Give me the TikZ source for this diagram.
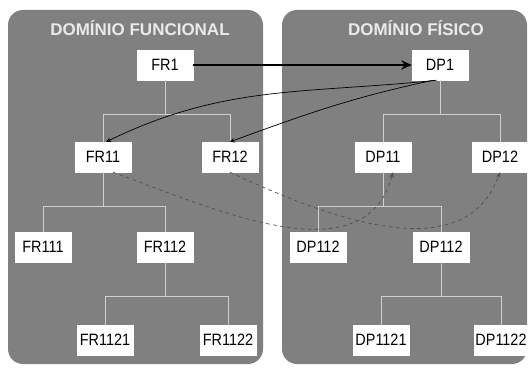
\documentclass[tikz,border=0pt]{standalone}
\usepackage{fontspec}
\setmainfont{Liberation Sans}
\newfontfamily\narrowfont{Liberation Sans}[FakeStretch=0.88]
\usetikzlibrary{arrows.meta}

\definecolor{panelgray}{HTML}{808080}
\definecolor{branchgray}{HTML}{CFCFCF}
\definecolor{titlegray}{HTML}{EAEAEA}
\definecolor{zigzaggray}{HTML}{505050}

\tikzset{
    req/.style={draw=white, fill=white, inner sep=0pt, minimum width=1.68cm,
        minimum height=0.9cm, font=\narrowfont\fontsize{14}{16}\selectfont},
    domaintitle/.style={text=titlegray, font=\bfseries\fontsize{14.5}{17}\selectfont},
    branch/.style={draw=branchgray, line width=0.6pt},
    mapping/.style={line width=1.6pt, -{Stealth[length=9pt, width=8pt]}},
    zigzag/.style={line width=0.6pt, -{Stealth[length=4pt, width=4pt]}},
    pending/.style={zigzaggray, dashed, line width=0.6pt, -{Stealth[length=5pt, width=4pt]}}
}

\begin{document}
\begin{tikzpicture}[x=0.03cm, y=-0.03cm]
        \useasboundingbox (0,0) rectangle (528,368);

        % the two domains
        \fill[panelgray, rounded corners=0.45cm] (8,10) rectangle (263,364);
        \fill[panelgray, rounded corners=0.45cm] (282,10) rectangle (527,364);

        \node[domaintitle] (titleFR) at (140,28) {DOMÍNIO FUNCIONAL};
        \node[domaintitle] (titleDP) at (416,28) {DOMÍNIO FÍSICO};

        % functional requirements
        \node[req] (FR1)    at (165,65)  {FR1};
        \node[req] (FR11)   at (103,157) {FR11};
        \node[req] (FR12)   at (230,157) {FR12};
        \node[req] (FR111)  at (43,247)  {FR111};
        \node[req] (FR112)  at (165,247) {FR112};
        \node[req] (FR1121) at (105,340) {FR1121};
        \node[req] (FR1122) at (228,340) {FR1122};

        % design parameters
        \node[req] (DP1)    at (440,65)  {DP1};
        \node[req] (DP11)   at (383,157) {DP11};
        \node[req] (DP12)   at (500,157) {DP12};
        \node[req] (DP112a) at (318,247) {DP112};
        \node[req] (DP112b) at (441,247) {DP112};
        \node[req] (DP1121) at (381,340) {DP1121};
        \node[req, minimum width=1.59cm] (DP1122) at (501,340) {DP1122};

        \foreach \parent/\child in {FR1/FR11, FR1/FR12, FR11/FR111, FR11/FR112,
            FR112/FR1121, FR112/FR1122, DP1/DP11, DP1/DP12, DP11/DP112a,
            DP11/DP112b, DP112b/DP1121, DP112b/DP1122}
            \draw[branch] (\parent.south) -- ++(0,34) -| (\child.north);

        \draw[mapping] (FR1.east) -- (DP1.west);
        \draw[zigzag] ([xshift=-0.1cm]DP1.south) to[out=186, in=26] ([xshift=0.1cm]FR11.north);
        \draw[zigzag] ([xshift=-0.2cm]DP1.south) to[out=192, in=20] (FR12.north);

        \draw[pending] ([xshift=0.3cm]FR11.south) to[out=-20, in=-105] ([xshift=0.3cm]DP11.south);
        \draw[pending] (FR12.south) to[out=-25, in=-110] (DP12.south);

    \end{tikzpicture}
\end{document}
